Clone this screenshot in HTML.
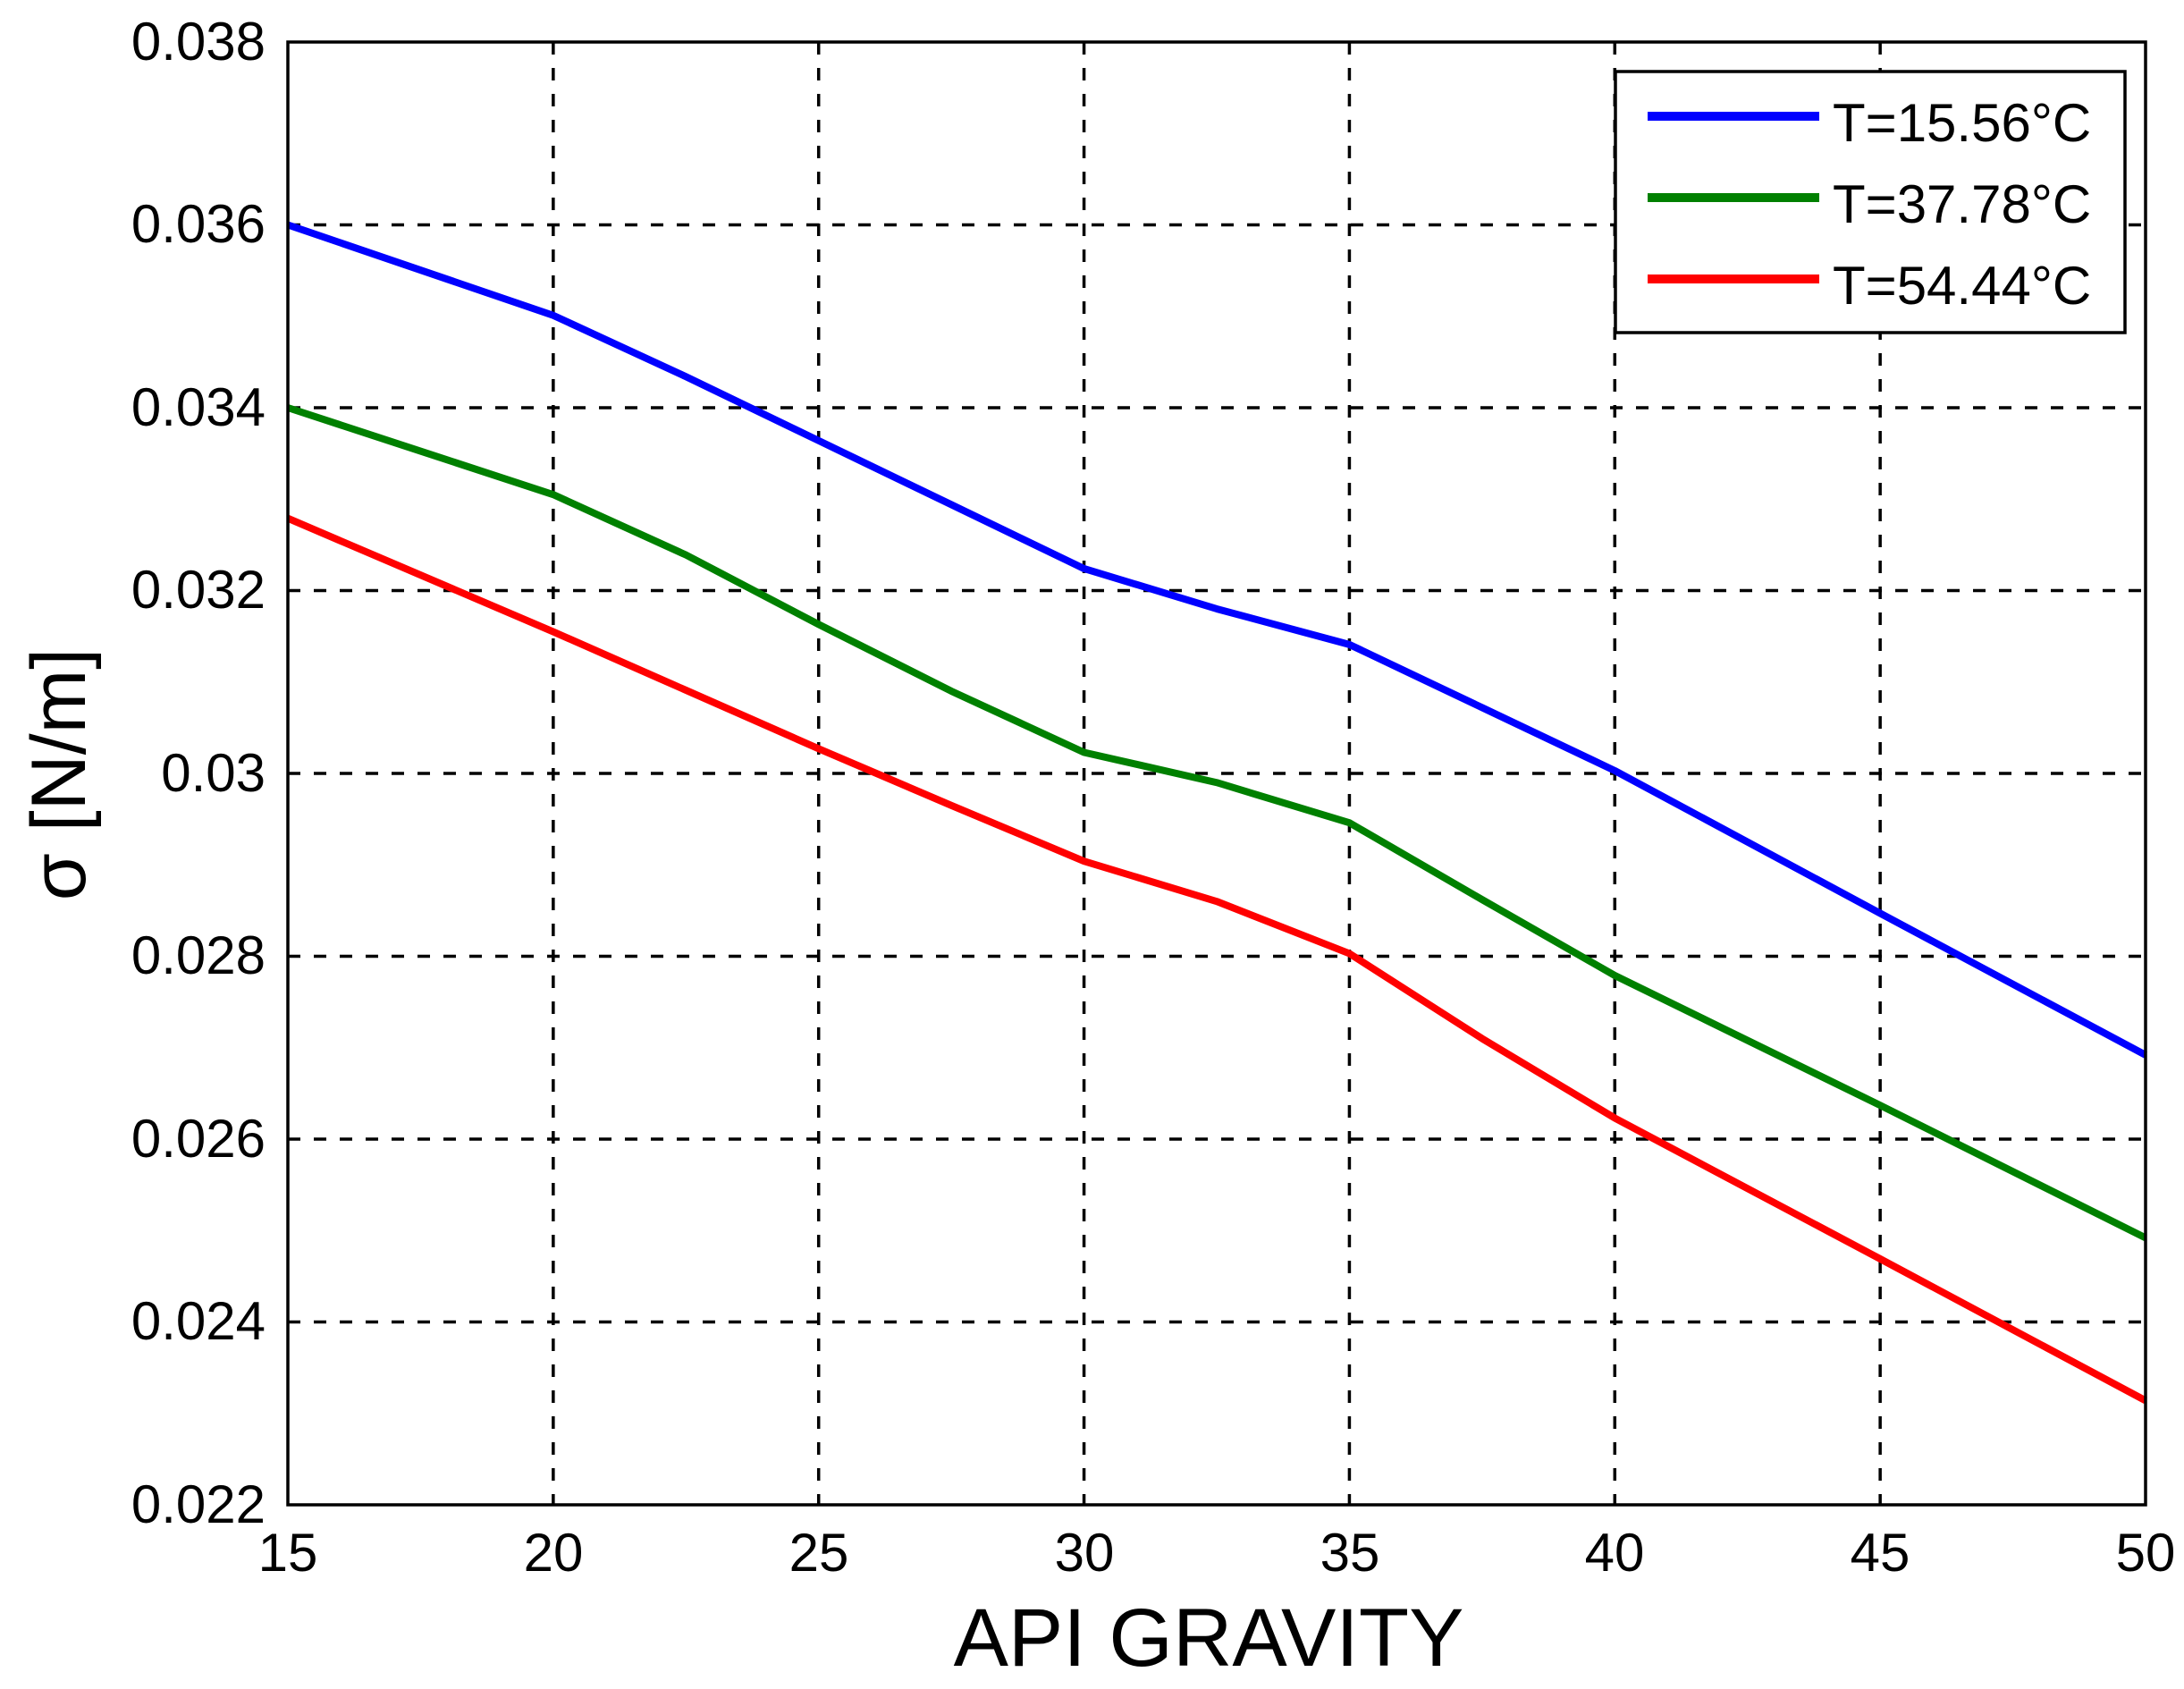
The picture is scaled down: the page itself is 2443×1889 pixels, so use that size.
<!DOCTYPE html>
<html><head><meta charset="utf-8"><style>
html,body{margin:0;padding:0;background:#fff;}
svg{display:block;}
text{font-family:"Liberation Sans",sans-serif;fill:#000;}
</style></head><body>
<svg id="s" width="2443" height="1889" viewBox="0 0 2443 1889" xmlns="http://www.w3.org/2000/svg">
<rect width="2443" height="1889" fill="#fff"/>
<g id="grid" stroke="#000" stroke-width="3.5" stroke-dasharray="14 15" fill="none"></g>
<g id="series" fill="none" stroke-width="8" stroke-linejoin="round"></g>
<rect x="322" y="47" width="2078" height="1636" fill="none" stroke="#000" stroke-width="3.5"/>
<g font-size="60" text-anchor="end">
<text x="297" y="67">0.038</text>
<text x="297" y="271">0.036</text>
<text x="297" y="476">0.034</text>
<text x="297" y="680">0.032</text>
<text x="297" y="885">0.03</text>
<text x="297" y="1089">0.028</text>
<text x="297" y="1294">0.026</text>
<text x="297" y="1498">0.024</text>
<text x="297" y="1703">0.022</text>
</g>
<g font-size="60" text-anchor="middle">
<text x="322" y="1757">15</text>
<text x="619" y="1757">20</text>
<text x="916" y="1757">25</text>
<text x="1213" y="1757">30</text>
<text x="1510" y="1757">35</text>
<text x="1806" y="1757">40</text>
<text x="2103" y="1757">45</text>
<text x="2400" y="1757">50</text>
</g>
<text x="1352" y="1863" font-size="92" text-anchor="middle">API GRAVITY</text>
<text transform="translate(95,866) rotate(-90)" font-size="86" text-anchor="middle">σ [N/m]</text>
<rect x="1807" y="80" width="570" height="292" fill="#fff" stroke="#000" stroke-width="3.5"/>
<line x1="1843" y1="130" x2="2035" y2="130" stroke="#0000ff" stroke-width="10"/>
<line x1="1843" y1="221" x2="2035" y2="221" stroke="#008000" stroke-width="10"/>
<line x1="1843" y1="312" x2="2035" y2="312" stroke="#ff0000" stroke-width="10"/>
<g font-size="60">
<text x="2050" y="158">T=15.56°C</text>
<text x="2050" y="249">T=37.78°C</text>
<text x="2050" y="340">T=54.44°C</text>
</g>
</svg>
<script>
var L=322,R=2400,T=47,B=1683;
function px(x){return L+(x-15)*(R-L)/35;}
function py(y){return T+(0.038-y)/0.016*(B-T);}
var ns="http://www.w3.org/2000/svg";
var g=document.getElementById("grid");
for(var x=20;x<50;x+=5){var l=document.createElementNS(ns,"line");l.setAttribute("x1",px(x));l.setAttribute("x2",px(x));l.setAttribute("y1",T);l.setAttribute("y2",B);g.appendChild(l);}
for(var i=1;i<8;i++){var y=0.022+i*0.002;var l=document.createElementNS(ns,"line");l.setAttribute("x1",L);l.setAttribute("x2",R);l.setAttribute("y1",py(y));l.setAttribute("y2",py(y));g.appendChild(l);}
var xs=[15,20,22.5,25,27.5,30,32.5,35,37.5,40,45,50];
var data=[
["#0000ff",[0.0360,0.03501,0.03434,0.03364,0.03294,0.03224,0.0318,0.03141,0.03072,0.03003,0.02847,0.02692]],
["#008000",[0.0340,0.03305,0.03239,0.03163,0.0309,0.03023,0.0299,0.02946,0.02862,0.02779,0.02637,0.02492]],
["#ff0000",[0.03279,0.03155,0.03091,0.03027,0.02965,0.02904,0.0286,0.02803,0.0271,0.02623,0.02469,0.02314]]
];
var sg=document.getElementById("series");
data.forEach(function(d){var p=document.createElementNS(ns,"polyline");var pts=xs.map(function(x,i){return px(x)+","+py(d[1][i]);}).join(" ");p.setAttribute("points",pts);p.setAttribute("stroke",d[0]);sg.appendChild(p);});
</script>
</body></html>
